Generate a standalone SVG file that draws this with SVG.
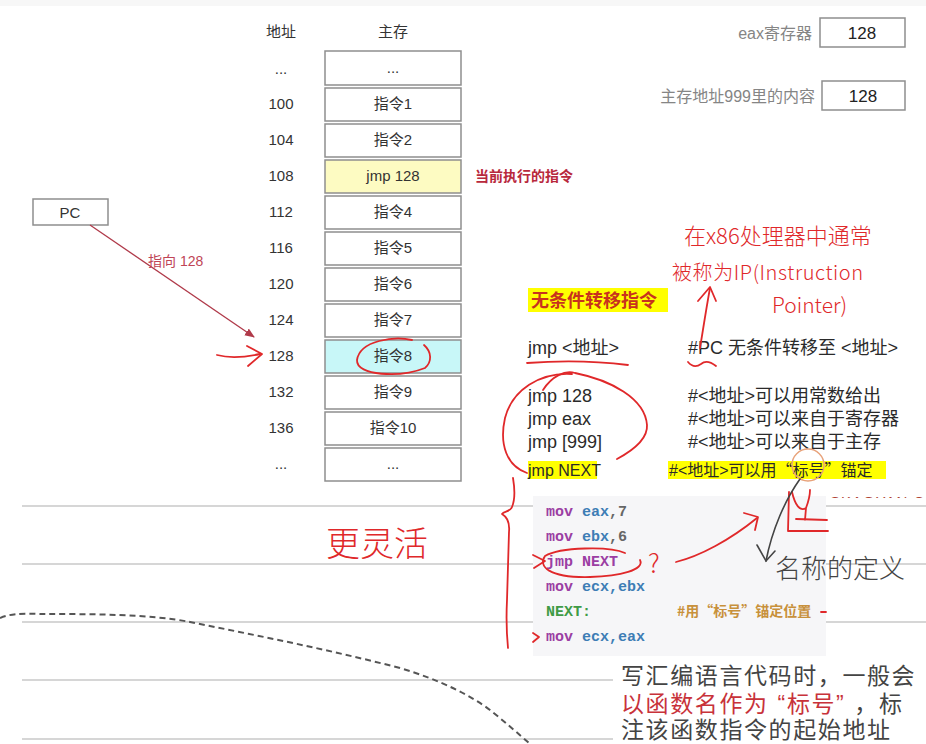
<svg xmlns="http://www.w3.org/2000/svg" width="926" height="744" viewBox="0 0 926 744">
<defs>
<style>
.cjk{font-family:"Liberation Sans","Noto Sans CJK SC",sans-serif}
.cjkq{font-family:"Noto Sans CJK SC","Liberation Sans",sans-serif}
.addr{font-family:"Liberation Sans","Noto Sans CJK SC",sans-serif;font-size:15px;fill:#333;text-anchor:middle}
.cell{fill:#fff;stroke:#8e8e8e;stroke-width:1.5}
.celltxt{font-family:"Liberation Sans","Noto Sans CJK SC",sans-serif;font-size:15px;fill:#333;text-anchor:middle}
.note{fill:#f6f6f8}
.nline{stroke:#d6d6d6;stroke-width:2}
.rl{font-family:"Liberation Sans","Noto Sans CJK SC",sans-serif;font-size:18px;fill:#2a2a2a}
.code{font-family:"Liberation Mono","DejaVu Sans Mono",monospace;font-size:15px;font-weight:bold}
.kw{fill:#9b3ea3}
.rg{fill:#3d7db5}
.nm{fill:#666}
.lb{fill:#3f9b45}
.hand{fill:none;stroke:#e0282a;stroke-width:1.8;stroke-linecap:round;stroke-linejoin:round}
.handtxt{font-family:"Noto Sans CJK SC",sans-serif;font-weight:300;fill:#e0282a}
.blk{fill:none;stroke:#444;stroke-width:1.6;stroke-linecap:round}
.big{font-family:"Liberation Sans","Noto Sans CJK SC",sans-serif;font-size:23px;fill:#444;letter-spacing:1.6px}
</style>
<marker id="ah" markerWidth="10" markerHeight="10" refX="9" refY="5" orient="auto" markerUnits="userSpaceOnUse">
<path d="M0,1 L10,5 L0,9 z" fill="#b03a4a"/>
</marker>
<clipPath id="wm"><rect x="826" y="486" width="100" height="12"/></clipPath>
</defs>
<rect width="926" height="744" fill="#fff"/>
<rect x="0" y="0" width="926" height="6" fill="#f7f7f7"/>
<g id="paper">
<line class="nline" x1="22" y1="506" x2="926" y2="506"/>
<line class="nline" x1="22" y1="564" x2="926" y2="564"/>
<line class="nline" x1="22" y1="622" x2="926" y2="622"/>
<line class="nline" x1="22" y1="680" x2="926" y2="680"/>
<line class="nline" x1="22" y1="739" x2="926" y2="739"/>
</g>
<path d="M0,618 C10,614 20,613 40,614 C90,614 150,614 190,622 C260,636 330,650 400,668 C440,680 470,695 490,710 C505,722 520,735 530,744" fill="none" stroke="#555" stroke-width="2" stroke-dasharray="6,4"/>

<text class="addr" x="281" y="37">地址</text>
<text class="addr" x="393" y="37">主存</text>

<g id="row-dots-top"><rect class="cell" x="325" y="51" width="136" height="34"/><text class="celltxt" x="393" y="73">...</text><text class="addr" x="281" y="74">...</text></g>
<g id="row-100"><rect class="cell" x="325" y="88" width="136" height="33"/><text class="celltxt" x="393" y="109">指令1</text><text class="addr" x="281" y="109">100</text></g>
<g id="row-104"><rect class="cell" x="325" y="124" width="136" height="33"/><text class="celltxt" x="393" y="145">指令2</text><text class="addr" x="281" y="145">104</text></g>
<g id="row-108"><rect class="cell" x="325" y="160" width="136" height="33" style="fill:#fdfbc2"/><text class="celltxt" x="393" y="181">jmp 128</text><text class="addr" x="281" y="181">108</text></g>
<g id="row-112"><rect class="cell" x="325" y="196" width="136" height="33"/><text class="celltxt" x="393" y="217">指令4</text><text class="addr" x="281" y="217">112</text></g>
<g id="row-116"><rect class="cell" x="325" y="232" width="136" height="33"/><text class="celltxt" x="393" y="253">指令5</text><text class="addr" x="281" y="253">116</text></g>
<g id="row-120"><rect class="cell" x="325" y="268" width="136" height="33"/><text class="celltxt" x="393" y="289">指令6</text><text class="addr" x="281" y="289">120</text></g>
<g id="row-124"><rect class="cell" x="325" y="304" width="136" height="33"/><text class="celltxt" x="393" y="325">指令7</text><text class="addr" x="281" y="325">124</text></g>
<g id="row-128"><rect class="cell" x="325" y="340" width="136" height="33" style="fill:#c8f7f8"/><text class="celltxt" x="393" y="361">指令8</text><text class="addr" x="281" y="361">128</text></g>
<g id="row-132"><rect class="cell" x="325" y="376" width="136" height="33"/><text class="celltxt" x="393" y="397">指令9</text><text class="addr" x="281" y="397">132</text></g>
<g id="row-136"><rect class="cell" x="325" y="412" width="136" height="33"/><text class="celltxt" x="393" y="433">指令10</text><text class="addr" x="281" y="433">136</text></g>
<g id="row-dots-bottom"><rect class="cell" x="325" y="448" width="136" height="33"/><text class="celltxt" x="393" y="469">...</text><text class="addr" x="281" y="469">...</text></g>

<text class="cjk" x="475" y="181" font-size="14" font-weight="bold" fill="#b8283c">当前执行的指令</text>

<g id="pc"><rect class="cell" x="33" y="199" width="75" height="26"/><text class="celltxt" x="70" y="218">PC</text></g>

<g id="eax"><text class="cjk" x="812" y="39" font-size="16" fill="#858585" text-anchor="end">eax寄存器</text><rect class="cell" x="820" y="18" width="85" height="29"/><text class="celltxt" x="862" y="39" style="font-size:17px;fill:#222">128</text></g>
<g id="mem999"><text class="cjk" x="815" y="102" font-size="16" fill="#858585" text-anchor="end">主存地址999里的内容</text><rect class="cell" x="822" y="81" width="83" height="29"/><text class="celltxt" x="863" y="102" style="font-size:17px;fill:#222">128</text></g>

<g id="connectors">
<line x1="90" y1="225" x2="254" y2="337" stroke="#b03a4a" stroke-width="1.3" marker-end="url(#ah)"/>
<text class="cjk" x="148" y="266" font-size="14" fill="#c04456">指向 128</text>
</g>

<g id="jmp-panel">
<rect x="528" y="288" width="140" height="24" fill="#ffff00"/>
<text class="cjk" x="531" y="307" font-size="18" font-weight="bold" fill="#c8321e">无条件转移指令</text>
<text class="rl" x="528" y="354">jmp &lt;地址&gt;</text>
<text class="rl" x="688" y="354">#PC 无条件转移至 &lt;地址&gt;</text>
<text class="rl" x="528" y="402">jmp 128</text>
<text class="rl" x="528" y="425">jmp eax</text>
<text class="rl" x="528" y="448">jmp [999]</text>
<rect x="528" y="461" width="69" height="18" fill="#ffff00"/>
<text class="rl" x="528" y="476" style="font-size:16px">jmp NEXT</text>
<text class="rl" x="688" y="402">#&lt;地址&gt;可以用常数给出</text>
<text class="rl" x="688" y="425">#&lt;地址&gt;可以来自于寄存器</text>
<text class="rl" x="688" y="448">#&lt;地址&gt;可以来自于主存</text>
<rect x="668" y="461" width="218" height="18" fill="#ffff00"/>
<text class="rl" x="669" y="476" style="font-size:16px">#&lt;地址&gt;可以用<tspan class="cjkq">“标号”</tspan>锚定</text>
</g>

<text x="830" y="507" clip-path="url(#wm)" font-family="Liberation Sans,sans-serif" font-size="15" fill="#b04434" letter-spacing="1">SKAOYAN C</text>

<g id="code">
<rect class="note" x="533" y="496" width="293" height="160"/>
<text class="code" x="546" y="516"><tspan class="kw">mov</tspan> <tspan class="rg">eax</tspan><tspan class="nm">,7</tspan></text>
<text class="code" x="546" y="541"><tspan class="kw">mov</tspan> <tspan class="rg">ebx</tspan><tspan class="nm">,6</tspan></text>
<text class="code" x="546" y="566"><tspan class="kw">jmp NEXT</tspan></text>
<text class="code" x="546" y="591"><tspan class="kw">mov</tspan> <tspan class="rg">ecx,ebx</tspan></text>
<text class="code" x="546" y="616"><tspan class="lb">NEXT:</tspan></text>
<text class="code" x="546" y="641"><tspan class="kw">mov</tspan> <tspan class="rg">ecx,eax</tspan></text>
<text class="cjkq" x="677" y="616" font-size="14" font-weight="bold" fill="#c8913c">#用“标号”锚定位置</text>
</g>

<g id="note">
<rect x="613" y="656" width="313" height="88" fill="#fff"/>
<text class="big" x="621" y="684">写汇编语言代码时，一般会</text>
<text class="big" x="621" y="712"><tspan fill="#c8323a">以函数名作为<tspan dx="9">“</tspan>标号”</tspan><tspan dx="9">，标</tspan></text>
<text class="big" x="621" y="738">注该函数指令的起始地址</text>
</g>

<g id="handwriting">
<text class="handtxt" x="684" y="244" font-size="22">在x86处理器中通常</text>
<text class="handtxt" x="672" y="280" font-size="20" letter-spacing="0.6">被称为IP(Instruction</text>
<text class="handtxt" x="772" y="313" font-size="21">Pointer)</text>
<path class="hand" d="M700,348 C703,330 706,310 710,288"/>
<path class="hand" d="M698,301 L710,287 L716,301"/>
<path class="hand" d="M688,362 q6,7 13,2 q6,-5 15,2"/>
<path class="hand" d="M527,363 Q580,359 628,365"/>
<path class="hand" d="M543,390 C552,376 565,370 575,373 C610,380 645,398 647,425 C648,440 630,452 617,459"/>
<path class="hand" d="M572,374 C540,372 512,390 505,418 C499,445 507,466 527,473"/>
<path class="hand" d="M217,355 C232,359 246,357 260,354"/>
<path class="hand" d="M247,346 L262,354 L248,366"/>
<path class="hand" d="M412,340 C395,336 360,340 357,360 C356,376 400,378 425,368 C432,362 432,352 424,345"/>
<path class="hand" d="M513,478 C515,490 515,500 512,507 C510,512 504,511 502,514 C507,517 510,522 509,532 L507,600 C506,620 507,638 508,648"/>
<path class="hand" d="M533,555 L545,561 L534,568"/>
<path class="hand" d="M625,553 C610,546 560,547 545,556 C538,566 548,578 590,577 C620,576 645,570 640,560"/>
<text class="handtxt" x="648" y="573" font-size="26">?</text>
<path class="hand" d="M676,562 C700,556 730,540 757,518"/>
<path class="hand" d="M744,513 L758,517 L755,530"/>
<path class="hand" d="M789,492 L788,531 L828,531"/>
<path class="hand" d="M792,492 C795,505 800,512 806,508 C809,500 810,495 810,490 M806,508 L805,520 M796,519 L827,520"/>
<path class="hand" d="M533,633 L539,637 L533,642"/>
<path class="hand" d="M821,612 L826,612"/>
<text class="handtxt" x="326" y="556" font-size="34">更灵活</text>
<circle cx="808" cy="465" r="16" fill="none" stroke="#e8a27a" stroke-width="1.4"/>
<path class="blk" d="M800,479 C785,500 772,530 766,561"/>
<path class="blk" d="M757,545 L766,561 L775,551"/>
<text x="775" y="578" font-family="Noto Sans CJK SC,sans-serif" font-weight="300" font-size="26" fill="#444">名称的定义</text>
</g>
</svg>
